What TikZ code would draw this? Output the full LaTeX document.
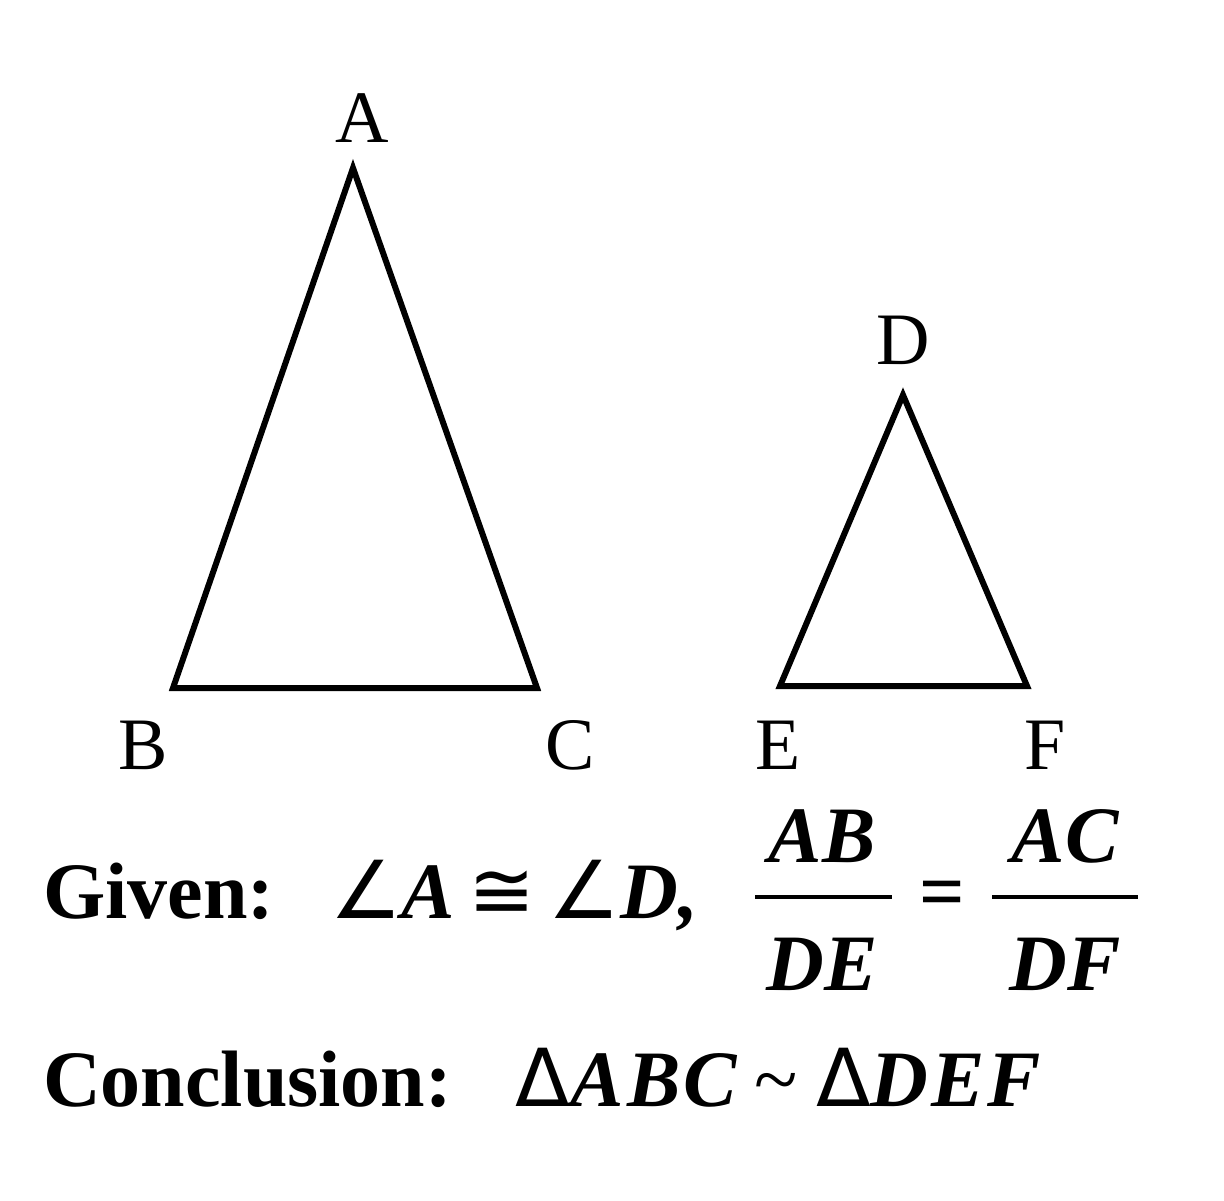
\documentclass[tikz,border=0pt]{standalone}
\usepackage{fontspec}
\setmainfont{Liberation Serif}
\newfontfamily\symf{DejaVu Sans}
\begin{document}
\begin{tikzpicture}[x=1pt,y=-1pt,line width=6pt,line join=miter,
  lab/.style={font=\fontsize{74}{80}\selectfont,inner sep=0pt},
  txt/.style={font=\fontsize{80}{86}\selectfont\bfseries,inner sep=0pt,anchor=base west}]
\useasboundingbox (0,0) rectangle (1224,1200);
\coordinate (A) at (353,168); \coordinate (B) at (173,688); \coordinate (C) at (537,688);
\coordinate (D) at (903,395); \coordinate (E) at (780,686); \coordinate (F) at (1027,686);
\draw (A)--(B)--(C)--cycle;
\draw (D)--(E)--(F)--cycle;
\node[lab] (la) at (362,118) {A};
\node[lab] (lb) at (143,745) {B};
\node[lab] (lc) at (570,745) {C};
\node[lab] (ld) at (903,340) {D};
\node[lab] (le) at (778,745) {E};
\node[lab] (lf) at (1045,745) {F};
\node[txt] (g) at (40,918) {Given:\hspace{0.7em}{\itshape{\symf\mdseries\upshape ∠}A\,{\symf\mdseries\upshape ≅}\,{\symf\mdseries\upshape ∠}D,}};
\node[txt,anchor=base] (n1) at (822,862) {\itshape AB};
\node[txt,anchor=base] (d1) at (822,990) {\itshape DE};
\node[txt,anchor=base] (n2) at (1065,862) {\itshape AC};
\node[txt,anchor=base] (d2) at (1065,990) {\itshape DF};
\draw[line width=3.5pt] (755,897) -- (892,897);
\draw[line width=3.5pt] (992,897) -- (1138,897);
\node[txt,anchor=base] (eq) at (942,918) {=};
\node[txt] (c) at (40,1106) {Conclusion:\hspace{0.8em}{\itshape{\symf\mdseries\upshape Δ}A\kern3pt B\kern3pt C\kern18pt{\mdseries\upshape\char"007E}\kern18pt{\symf\mdseries\upshape Δ}D\kern3pt E\kern3pt F}};
\end{tikzpicture}
\end{document}
